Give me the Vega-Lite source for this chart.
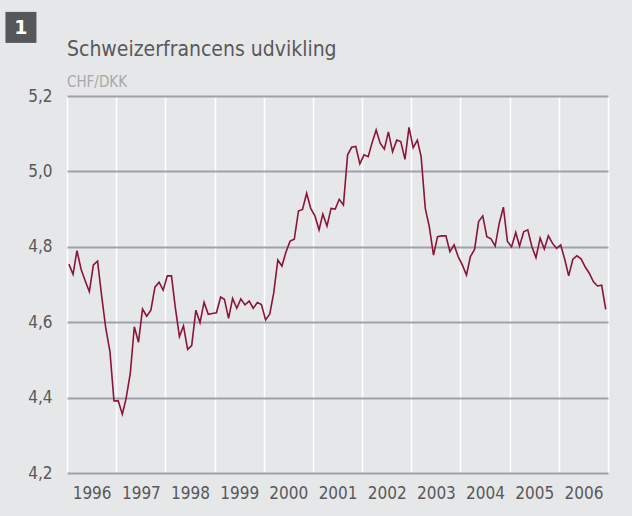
{
  "$schema": "https://vega.github.io/schema/vega-lite/v6.json",
  "width": 541,
  "height": 377,
  "autosize": {"type": "none"},
  "padding": {"left": 67, "top": 96, "right": 24, "bottom": 43},
  "background": "#e6e7e8",
  "title": {
    "text": "Schweizerfrancens udvikling",
    "subtitle": "CHF/DKK",
    "anchor": "start",
    "frame": "group",
    "font": "DejaVu Sans Condensed, DejaVu Sans, sans-serif",
    "fontSize": 21,
    "fontWeight": "normal",
    "color": "#58595b",
    "subtitleFont": "DejaVu Sans Condensed, DejaVu Sans, sans-serif",
    "subtitleFontSize": 15,
    "subtitleColor": "#a7a9ac",
    "subtitlePadding": 15,
    "offset": -78
  },
  "config": {
    "view": {"stroke": null},
    "axis": {
      "labelFont": "DejaVu Sans Condensed, DejaVu Sans, sans-serif",
      "labelFontSize": 17,
      "labelColor": "#58595b"
    }
  },
  "layer": [
    {
      "data": {
        "values": [
          {"date": "1996-01-15", "rate": 4.754}, {"date": "1996-02-15", "rate": 4.727}, {"date": "1996-03-15", "rate": 4.790}, {"date": "1996-04-15", "rate": 4.740},
          {"date": "1996-05-15", "rate": 4.710}, {"date": "1996-06-15", "rate": 4.681}, {"date": "1996-07-15", "rate": 4.752}, {"date": "1996-08-15", "rate": 4.762},
          {"date": "1996-09-15", "rate": 4.668}, {"date": "1996-10-15", "rate": 4.584}, {"date": "1996-11-15", "rate": 4.522}, {"date": "1996-12-15", "rate": 4.391},
          {"date": "1997-01-15", "rate": 4.392}, {"date": "1997-02-15", "rate": 4.356}, {"date": "1997-03-15", "rate": 4.398}, {"date": "1997-04-15", "rate": 4.464},
          {"date": "1997-05-15", "rate": 4.588}, {"date": "1997-06-15", "rate": 4.547}, {"date": "1997-07-15", "rate": 4.635}, {"date": "1997-08-15", "rate": 4.616},
          {"date": "1997-09-15", "rate": 4.632}, {"date": "1997-10-15", "rate": 4.693}, {"date": "1997-11-15", "rate": 4.706}, {"date": "1997-12-15", "rate": 4.685},
          {"date": "1998-01-15", "rate": 4.723}, {"date": "1998-02-15", "rate": 4.723}, {"date": "1998-03-15", "rate": 4.640}, {"date": "1998-04-15", "rate": 4.562},
          {"date": "1998-05-15", "rate": 4.590}, {"date": "1998-06-15", "rate": 4.528}, {"date": "1998-07-15", "rate": 4.538}, {"date": "1998-08-15", "rate": 4.632},
          {"date": "1998-09-15", "rate": 4.599}, {"date": "1998-10-15", "rate": 4.653}, {"date": "1998-11-15", "rate": 4.621}, {"date": "1998-12-15", "rate": 4.623},
          {"date": "1999-01-15", "rate": 4.625}, {"date": "1999-02-15", "rate": 4.667}, {"date": "1999-03-15", "rate": 4.661}, {"date": "1999-04-15", "rate": 4.610},
          {"date": "1999-05-15", "rate": 4.663}, {"date": "1999-06-15", "rate": 4.637}, {"date": "1999-07-15", "rate": 4.662}, {"date": "1999-08-15", "rate": 4.646},
          {"date": "1999-09-15", "rate": 4.656}, {"date": "1999-10-15", "rate": 4.637}, {"date": "1999-11-15", "rate": 4.652}, {"date": "1999-12-15", "rate": 4.647},
          {"date": "2000-01-15", "rate": 4.606}, {"date": "2000-02-15", "rate": 4.622}, {"date": "2000-03-15", "rate": 4.677}, {"date": "2000-04-15", "rate": 4.765},
          {"date": "2000-05-15", "rate": 4.749}, {"date": "2000-06-15", "rate": 4.787}, {"date": "2000-07-15", "rate": 4.815}, {"date": "2000-08-15", "rate": 4.820},
          {"date": "2000-09-15", "rate": 4.895}, {"date": "2000-10-15", "rate": 4.899}, {"date": "2000-11-15", "rate": 4.942}, {"date": "2000-12-15", "rate": 4.902},
          {"date": "2001-01-15", "rate": 4.882}, {"date": "2001-02-15", "rate": 4.845}, {"date": "2001-03-15", "rate": 4.887}, {"date": "2001-04-15", "rate": 4.855},
          {"date": "2001-05-15", "rate": 4.902}, {"date": "2001-06-15", "rate": 4.900}, {"date": "2001-07-15", "rate": 4.926}, {"date": "2001-08-15", "rate": 4.911},
          {"date": "2001-09-15", "rate": 5.044}, {"date": "2001-10-15", "rate": 5.064}, {"date": "2001-11-15", "rate": 5.066}, {"date": "2001-12-15", "rate": 5.020},
          {"date": "2002-01-15", "rate": 5.044}, {"date": "2002-02-15", "rate": 5.039}, {"date": "2002-03-15", "rate": 5.075}, {"date": "2002-04-15", "rate": 5.110},
          {"date": "2002-05-15", "rate": 5.075}, {"date": "2002-06-15", "rate": 5.059}, {"date": "2002-07-15", "rate": 5.105}, {"date": "2002-08-15", "rate": 5.052},
          {"date": "2002-09-15", "rate": 5.083}, {"date": "2002-10-15", "rate": 5.079}, {"date": "2002-11-15", "rate": 5.032}, {"date": "2002-12-15", "rate": 5.117},
          {"date": "2003-01-15", "rate": 5.063}, {"date": "2003-02-15", "rate": 5.083}, {"date": "2003-03-15", "rate": 5.039}, {"date": "2003-04-15", "rate": 4.902},
          {"date": "2003-05-15", "rate": 4.853}, {"date": "2003-06-15", "rate": 4.778}, {"date": "2003-07-15", "rate": 4.827}, {"date": "2003-08-15", "rate": 4.829},
          {"date": "2003-09-15", "rate": 4.829}, {"date": "2003-10-15", "rate": 4.787}, {"date": "2003-11-15", "rate": 4.805}, {"date": "2003-12-15", "rate": 4.774},
          {"date": "2004-01-15", "rate": 4.752}, {"date": "2004-02-15", "rate": 4.725}, {"date": "2004-03-15", "rate": 4.774}, {"date": "2004-04-15", "rate": 4.793},
          {"date": "2004-05-15", "rate": 4.867}, {"date": "2004-06-15", "rate": 4.882}, {"date": "2004-07-15", "rate": 4.827}, {"date": "2004-08-15", "rate": 4.821},
          {"date": "2004-09-15", "rate": 4.802}, {"date": "2004-10-15", "rate": 4.862}, {"date": "2004-11-15", "rate": 4.905}, {"date": "2004-12-15", "rate": 4.814},
          {"date": "2005-01-15", "rate": 4.800}, {"date": "2005-02-15", "rate": 4.838}, {"date": "2005-03-15", "rate": 4.802}, {"date": "2005-04-15", "rate": 4.840},
          {"date": "2005-05-15", "rate": 4.845}, {"date": "2005-06-15", "rate": 4.800}, {"date": "2005-07-15", "rate": 4.771}, {"date": "2005-08-15", "rate": 4.823},
          {"date": "2005-09-15", "rate": 4.794}, {"date": "2005-10-15", "rate": 4.829}, {"date": "2005-11-15", "rate": 4.809}, {"date": "2005-12-15", "rate": 4.796},
          {"date": "2006-01-15", "rate": 4.805}, {"date": "2006-02-15", "rate": 4.765}, {"date": "2006-03-15", "rate": 4.723}, {"date": "2006-04-15", "rate": 4.767},
          {"date": "2006-05-15", "rate": 4.776}, {"date": "2006-06-15", "rate": 4.768}, {"date": "2006-07-15", "rate": 4.747}, {"date": "2006-08-15", "rate": 4.730},
          {"date": "2006-09-15", "rate": 4.707}, {"date": "2006-10-15", "rate": 4.696}, {"date": "2006-11-15", "rate": 4.698}, {"date": "2006-12-15", "rate": 4.634}
        ]
      },
      "mark": {"type": "line", "color": "#8a1538", "strokeWidth": 1.6, "interpolate": "linear"},
      "encoding": {
        "x": {
          "field": "date",
          "type": "temporal",
          "scale": {"type": "utc", "domain": [{"year": 1996, "month": 1, "date": 1, "utc": true}, {"year": 2007, "month": 1, "date": 1, "utc": true}]},
          "axis": {
            "title": null,
            "values": [
              {"year": 1996, "month": 1, "date": 1, "utc": true}, {"year": 1997, "month": 1, "date": 1, "utc": true},
              {"year": 1998, "month": 1, "date": 1, "utc": true}, {"year": 1999, "month": 1, "date": 1, "utc": true},
              {"year": 2000, "month": 1, "date": 1, "utc": true}, {"year": 2001, "month": 1, "date": 1, "utc": true},
              {"year": 2002, "month": 1, "date": 1, "utc": true}, {"year": 2003, "month": 1, "date": 1, "utc": true},
              {"year": 2004, "month": 1, "date": 1, "utc": true}, {"year": 2005, "month": 1, "date": 1, "utc": true},
              {"year": 2006, "month": 1, "date": 1, "utc": true}, {"year": 2007, "month": 1, "date": 1, "utc": true}
            ],
            "format": "%Y",
            "labelExpr": "utcyear(datum.value) > 2006 ? '' : datum.label",
            "labelAlign": "center",
            "labelOffset": 24.6,
            "labelPadding": 12,
            "labelOverlap": false,
            "labelFlush": false,
            "grid": true,
            "gridColor": "#ffffff",
            "gridWidth": 1.5,
            "ticks": false,
            "domain": false,
            "zindex": 0
          }
        },
        "y": {
          "field": "rate",
          "type": "quantitative",
          "scale": {"domain": [4.2, 5.2], "zero": false, "nice": false},
          "axis": {
            "title": null,
            "values": [4.2, 4.4, 4.6, 4.8, 5.0, 5.2],
            "format": ".1f",
            "labelExpr": "replace(datum.label, '.', ',')",
            "labelPadding": 15,
            "grid": true,
            "gridColor": "#9fa1ab",
            "gridWidth": 2,
            "ticks": false,
            "domain": false,
            "zindex": 0
          }
        }
      }
    },
    {
      "data": {"values": [{"nr": "1"}]},
      "mark": {"type": "point", "shape": "square", "filled": true, "size": 961, "color": "#555759", "opacity": 1},
      "encoding": {
        "x": {"datum": {"year": 1995, "month": 1, "date": 24, "utc": true}, "type": "temporal"},
        "y": {"datum": 5.382, "type": "quantitative"}
      }
    },
    {
      "data": {"values": [{"nr": "1"}]},
      "mark": {"type": "text", "color": "#ffffff", "fontSize": 19, "fontWeight": "bold", "font": "DejaVu Sans, sans-serif", "align": "center", "baseline": "middle", "dy": 1},
      "encoding": {
        "x": {"datum": {"year": 1995, "month": 1, "date": 24, "utc": true}, "type": "temporal"},
        "y": {"datum": 5.382, "type": "quantitative"},
        "text": {"field": "nr"}
      }
    }
  ]
}
